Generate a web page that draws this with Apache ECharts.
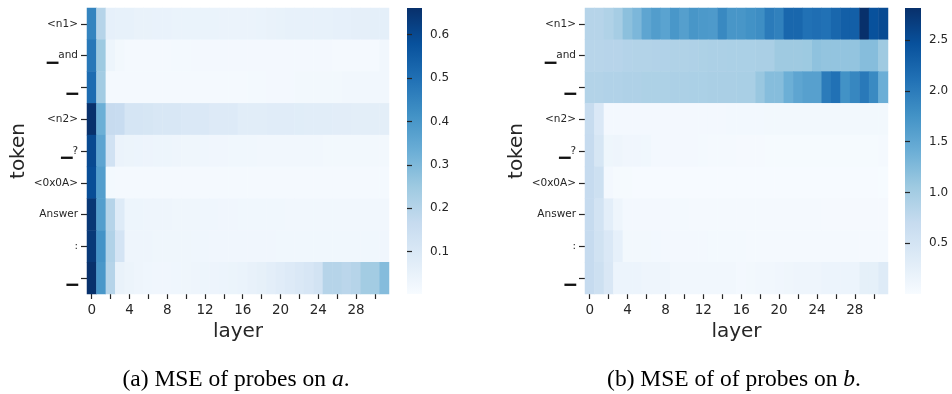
<!DOCTYPE html>
<html>
<head>
<meta charset="utf-8">
<script src="https://cdn.jsdelivr.net/npm/echarts@6/dist/echarts.min.js"></script>
<style>
  html, body { margin: 0; padding: 0; background: #fff; }
  #chart { width: 952px; height: 394px; }
</style>
</head>
<body>
<div id="chart"></div>
<script>
// Token positions (rows, top to bottom) and probed layers (columns)
const tokens = ['<n1>', '\u2581and', '\u2581', '<n2>', '\u2581?', '<0x0A>', 'Answer', ':', '\u2581'];
const layers = Array.from({ length: 32 }, (_, i) => String(i));

// Colour-bar tick labels
const cbarTicksA = [0.1, 0.2, 0.3, 0.4, 0.5, 0.6];
const cbarTicksB = [0.5, 1.0, 1.5, 2.0, 2.5];

// Colour scale limits
const rangeA = [0.0025, 0.6615];
const rangeB = [0.0, 2.815];

// (a) MSE of probes on a — one row per token, one value per layer
const mseA_n1 = [0.45, 0.20, 0.058, 0.056, 0.054, 0.050, 0.049, 0.048, 0.047, 0.046, 0.045, 0.045, 0.044, 0.044, 0.043, 0.043, 0.042, 0.043, 0.044, 0.050, 0.051, 0.054, 0.055, 0.055, 0.056, 0.056, 0.057, 0.058, 0.062, 0.063, 0.064, 0.066];
const mseA_and = [0.48, 0.25, 0.035, 0.018, 0.012, 0.012, 0.012, 0.013, 0.014, 0.015, 0.015, 0.016, 0.016, 0.016, 0.016, 0.016, 0.016, 0.016, 0.016, 0.016, 0.017, 0.017, 0.017, 0.016, 0.016, 0.016, 0.013, 0.013, 0.013, 0.013, 0.013, 0.022];
const mseA_sp1 = [0.51, 0.24, 0.012, 0.012, 0.012, 0.012, 0.012, 0.012, 0.012, 0.012, 0.012, 0.013, 0.013, 0.013, 0.013, 0.014, 0.014, 0.015, 0.015, 0.016, 0.017, 0.017, 0.018, 0.018, 0.019, 0.019, 0.020, 0.021, 0.021, 0.022, 0.022, 0.022];
const mseA_n2 = [0.66, 0.33, 0.165, 0.16, 0.115, 0.115, 0.112, 0.105, 0.105, 0.104, 0.10, 0.10, 0.098, 0.09, 0.09, 0.088, 0.076, 0.076, 0.075, 0.078, 0.078, 0.078, 0.077, 0.074, 0.074, 0.074, 0.073, 0.073, 0.07, 0.07, 0.07, 0.07];
const mseA_q = [0.60, 0.36, 0.13, 0.042, 0.040, 0.038, 0.036, 0.035, 0.034, 0.032, 0.030, 0.029, 0.028, 0.027, 0.026, 0.025, 0.024, 0.024, 0.023, 0.023, 0.022, 0.022, 0.022, 0.021, 0.021, 0.020, 0.020, 0.020, 0.019, 0.019, 0.019, 0.018];
const mseA_nl = [0.59, 0.38, 0.015, 0.012, 0.012, 0.012, 0.012, 0.012, 0.012, 0.012, 0.012, 0.012, 0.012, 0.012, 0.012, 0.012, 0.012, 0.012, 0.012, 0.012, 0.012, 0.012, 0.012, 0.012, 0.012, 0.012, 0.012, 0.012, 0.012, 0.012, 0.012, 0.012];
const mseA_ans = [0.645, 0.38, 0.20, 0.085, 0.035, 0.034, 0.033, 0.032, 0.031, 0.030, 0.029, 0.029, 0.028, 0.028, 0.027, 0.026, 0.025, 0.025, 0.025, 0.024, 0.024, 0.023, 0.023, 0.023, 0.022, 0.022, 0.022, 0.022, 0.022, 0.022, 0.022, 0.022];
const mseA_colon = [0.64, 0.41, 0.21, 0.12, 0.032, 0.031, 0.031, 0.030, 0.030, 0.029, 0.029, 0.028, 0.028, 0.027, 0.027, 0.027, 0.026, 0.026, 0.026, 0.026, 0.025, 0.025, 0.025, 0.025, 0.025, 0.025, 0.024, 0.024, 0.024, 0.024, 0.024, 0.026];
const mseA_sp2 = [0.66, 0.40, 0.20, 0.05, 0.04, 0.032, 0.028, 0.026, 0.026, 0.028, 0.030, 0.032, 0.034, 0.036, 0.038, 0.041, 0.046, 0.052, 0.060, 0.068, 0.078, 0.088, 0.10, 0.11, 0.125, 0.20, 0.20, 0.19, 0.20, 0.24, 0.24, 0.29];

// (b) MSE of probes on b — one row per token, one value per layer
const mseB_n1 = [0.845, 0.845, 0.90, 0.985, 1.18, 1.29, 1.52, 1.62, 1.55, 1.70, 1.60, 1.71, 1.67, 1.66, 1.86, 1.71, 1.71, 1.76, 1.80, 2.00, 1.94, 2.22, 2.22, 2.11, 2.14, 2.11, 2.22, 2.31, 2.31, 2.815, 2.46, 2.53];
const mseB_and = [0.83, 0.83, 0.84, 0.84, 0.86, 0.87, 0.87, 0.88, 0.89, 0.90, 0.90, 0.91, 0.92, 0.93, 0.93, 0.94, 0.94, 0.94, 0.95, 0.95, 1.05, 1.05, 1.05, 1.06, 1.16, 1.13, 1.13, 1.13, 1.13, 1.22, 1.22, 1.05];
const mseB_sp1 = [0.87, 0.87, 0.89, 0.89, 0.91, 0.91, 0.92, 0.92, 0.92, 0.93, 0.93, 0.94, 0.94, 0.95, 0.95, 0.95, 0.96, 0.96, 1.09, 1.22, 1.22, 1.40, 1.52, 1.58, 1.58, 2.00, 2.11, 1.76, 1.88, 2.03, 1.84, 1.41];
const mseB_n2 = [0.69, 0.41, 0.056, 0.056, 0.056, 0.056, 0.058, 0.058, 0.060, 0.060, 0.060, 0.062, 0.062, 0.062, 0.063, 0.064, 0.064, 0.065, 0.065, 0.066, 0.066, 0.067, 0.067, 0.068, 0.068, 0.068, 0.069, 0.069, 0.070, 0.070, 0.070, 0.070];
const mseB_q = [0.70, 0.47, 0.12, 0.125, 0.10, 0.10, 0.095, 0.06, 0.058, 0.056, 0.056, 0.055, 0.05, 0.04, 0.038, 0.036, 0.035, 0.034, 0.033, 0.032, 0.032, 0.031, 0.031, 0.030, 0.030, 0.030, 0.029, 0.029, 0.029, 0.028, 0.028, 0.04];
const mseB_nl = [0.70, 0.60, 0.056, 0.025, 0.022, 0.021, 0.020, 0.020, 0.019, 0.019, 0.018, 0.018, 0.018, 0.017, 0.017, 0.017, 0.016, 0.016, 0.016, 0.015, 0.015, 0.015, 0.014, 0.014, 0.014, 0.013, 0.013, 0.013, 0.012, 0.012, 0.011, 0.01];
const mseB_ans = [0.70, 0.53, 0.28, 0.127, 0.06, 0.058, 0.056, 0.056, 0.055, 0.052, 0.05, 0.048, 0.047, 0.046, 0.045, 0.044, 0.043, 0.042, 0.041, 0.040, 0.039, 0.038, 0.037, 0.036, 0.036, 0.035, 0.035, 0.035, 0.035, 0.035, 0.035, 0.035];
const mseB_colon = [0.70, 0.56, 0.41, 0.24, 0.07, 0.068, 0.066, 0.064, 0.062, 0.06, 0.058, 0.056, 0.055, 0.054, 0.052, 0.05, 0.05, 0.048, 0.047, 0.046, 0.045, 0.044, 0.043, 0.042, 0.042, 0.041, 0.041, 0.04, 0.04, 0.04, 0.04, 0.04];
const mseB_sp2 = [0.70, 0.60, 0.43, 0.15, 0.15, 0.15, 0.13, 0.13, 0.13, 0.08, 0.08, 0.08, 0.08, 0.08, 0.08, 0.08, 0.06, 0.07, 0.08, 0.09, 0.10, 0.11, 0.13, 0.13, 0.13, 0.15, 0.15, 0.15, 0.15, 0.25, 0.25, 0.35];

const rowsA = [mseA_n1, mseA_and, mseA_sp1, mseA_n2, mseA_q, mseA_nl, mseA_ans, mseA_colon, mseA_sp2];
const rowsB = [mseB_n1, mseB_and, mseB_sp1, mseB_n2, mseB_q, mseB_nl, mseB_ans, mseB_colon, mseB_sp2];

// Sequential blue palette
const blues = ['#f7fbff', '#deebf7', '#c6dbef', '#9ecae1', '#6baed6', '#4292c6', '#2171b5', '#08519c', '#08306b'];

const FONT = 'DejaVu Sans';
const INK = '#262626';

function toCells(rows) {
  const out = [];
  rows.forEach((row, y) => row.forEach((v, x) => out.push([x, y, v])));
  return out;
}

function tokenLabel(v) {
  if (v.startsWith('\u2581')) {
    const rest = v.slice(1);
    return rest ? '{u|\u2581}{t|' + rest + '}' : '{u|\u2581}';
  }
  return '{t|' + v + '}';
}

// Panel geometry
const panels = [
  { left: 87, width: 302, cbLeft: 407, cbWidth: 15, range: rangeA, ticks: cbarTicksA, rows: rowsA },
  { left: 585, width: 303, cbLeft: 905, cbWidth: 16, range: rangeB, ticks: cbarTicksB, rows: rowsB }
];
const TOP = 8, HEIGHT = 286;

// Colour-bar gradient: same palette, bottom (low) to top (high)
const barGradient = new echarts.graphic.LinearGradient(0, 1, 0, 0,
  blues.map((c, k) => ({ offset: k / (blues.length - 1), color: c })));

const grid = [], xAxis = [], yAxis = [], series = [], visualMap = [], graphic = [];
panels.forEach((p, i) => {
  // heatmap grid
  grid.push({ left: p.left, top: TOP, width: p.width, height: HEIGHT });
  xAxis.push({
    type: 'category', gridIndex: 2 * i, data: layers,
    name: 'layer', nameLocation: 'middle', nameGap: 26,
    nameTextStyle: { fontFamily: FONT, fontSize: 20, color: INK },
    axisLine: { show: false },
    axisTick: { show: true, interval: 1, alignWithLabel: true, length: 5, lineStyle: { color: INK, width: 1.2 } },
    axisLabel: { interval: 3, fontFamily: FONT, fontSize: 13.5, color: INK, margin: 9 },
    splitLine: { show: false }
  });
  yAxis.push({
    type: 'category', gridIndex: 2 * i, data: tokens, inverse: true,
    name: 'token', nameLocation: 'middle', nameGap: 58, nameRotate: 90,
    nameTextStyle: { fontFamily: FONT, fontSize: 20, color: INK },
    axisLine: { show: false },
    axisTick: { show: true, alignWithLabel: true, length: 6, lineStyle: { color: INK, width: 1.2 } },
    axisLabel: {
      margin: 9, fontFamily: FONT, color: INK, formatter: tokenLabel,
      rich: {
        t: { fontFamily: FONT, fontSize: 10.5, color: INK },
        u: { fontFamily: FONT, fontSize: 15, color: '#111' }
      }
    },
    splitLine: { show: false }
  });
  series.push({
    type: 'heatmap', xAxisIndex: 2 * i, yAxisIndex: 2 * i,
    data: toCells(p.rows), itemStyle: { borderWidth: 0 },
    emphasis: { disabled: true }, progressive: 0
  });
  // colour-bar axis
  grid.push({ left: p.cbLeft, top: TOP, width: p.cbWidth, height: HEIGHT });
  xAxis.push({ type: 'value', gridIndex: 2 * i + 1, show: false, min: 0, max: 1 });
  yAxis.push({
    type: 'value', gridIndex: 2 * i + 1, position: 'right',
    min: p.range[0], max: p.range[1],
    axisLine: { show: false },
    splitLine: { show: false },
    axisTick: { show: true, length: 5, customValues: p.ticks, lineStyle: { color: INK, width: 1.2 } },
    axisLabel: {
      customValues: p.ticks, fontFamily: FONT, fontSize: 12, color: INK, margin: 8,
      formatter: v => v.toFixed(1)
    }
  });
  visualMap.push({
    type: 'continuous', seriesIndex: i, min: p.range[0], max: p.range[1],
    inRange: { color: blues }, show: false
  });
  graphic.push({
    type: 'rect', z: -1, silent: true,
    shape: { x: p.cbLeft, y: TOP, width: p.cbWidth, height: HEIGHT },
    style: { fill: barGradient }
  });
});

const captionStyle = {
  fontFamily: 'Liberation Serif', fontSize: 23.5, fill: '#000',
  align: 'center', verticalAlign: 'middle',
  rich: { i: { fontFamily: 'Liberation Serif', fontStyle: 'italic', fontSize: 23.5, fill: '#000' } }
};
graphic.push(
  { type: 'text', x: 236, y: 380, style: Object.assign({ text: '(a) MSE of probes on {i|a}.' }, captionStyle) },
  { type: 'text', x: 734, y: 380, style: Object.assign({ text: '(b) MSE of of probes on {i|b}.' }, captionStyle) }
);

const chart = echarts.init(document.getElementById('chart'), null, { renderer: 'canvas' });
chart.setOption({
  animation: false,
  backgroundColor: '#fff',
  grid, xAxis, yAxis, series, visualMap, graphic
});
</script>
</body>
</html>
